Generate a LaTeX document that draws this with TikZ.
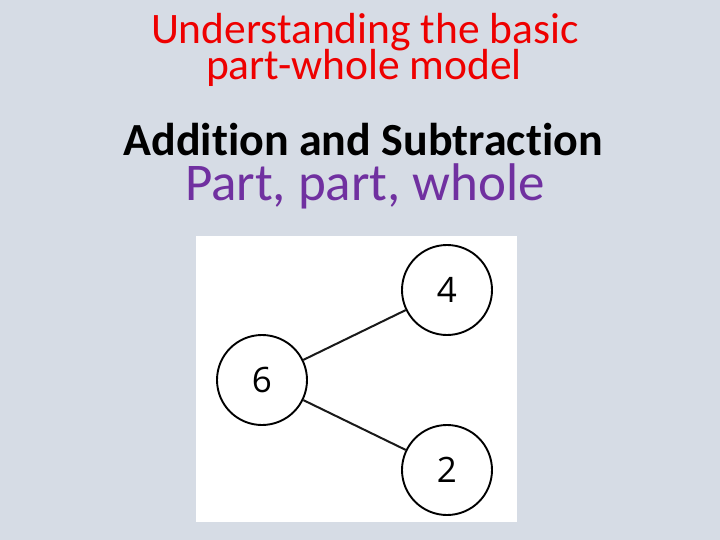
\documentclass[tikz,border=0pt]{standalone}
\usepackage{fontspec}
\setmainfont[Ligatures=NoCommon]{Carlito}
\newfontfamily\digitfont{Open Sans}
\definecolor{bgcol}{HTML}{D6DCE5}
\definecolor{titlered}{HTML}{EE0000}
\definecolor{purp}{HTML}{7030A0}
\begin{document}
\begin{tikzpicture}[x=1pt,y=-1pt,
  titletext/.style={anchor=base,inner sep=0pt},
  numcircle/.style={circle,draw=black,line width=1.9pt,minimum size=90pt,inner sep=0pt,font=\digitfont\fontsize{35}{35}\selectfont},
  joinline/.style={line width=2pt,draw=black!90}]
\fill[bgcol] (0,0) rectangle (720,540);
\useasboundingbox (0,0) rectangle (720,540);
\node[titletext,text=titlered,font=\fontsize{43.5}{43.5}\selectfont] (t1) at (365,44) {Understanding the basic};
\node[titletext,text=titlered,font=\fontsize{43.5}{43.5}\selectfont] (t2) at (364,80) {part-whole model};
\node[titletext,text=black,font=\bfseries\fontsize{46}{46}\selectfont] (t3) at (363,156) {Addition and Subtraction};
\node[titletext,text=purp,font=\fontsize{53}{53}\selectfont] (t4) at (365,200.5) {Part, part, whole};
\fill[white] (196,236) rectangle (517,522);
\node[numcircle] (six) at (262,380) {6};
\node[numcircle] (four) at (447,290) {4};
\node[numcircle] (two) at (447,470) {2};
\draw[joinline] (six) -- (four);
\draw[joinline] (six) -- (two);
\end{tikzpicture}
\end{document}
